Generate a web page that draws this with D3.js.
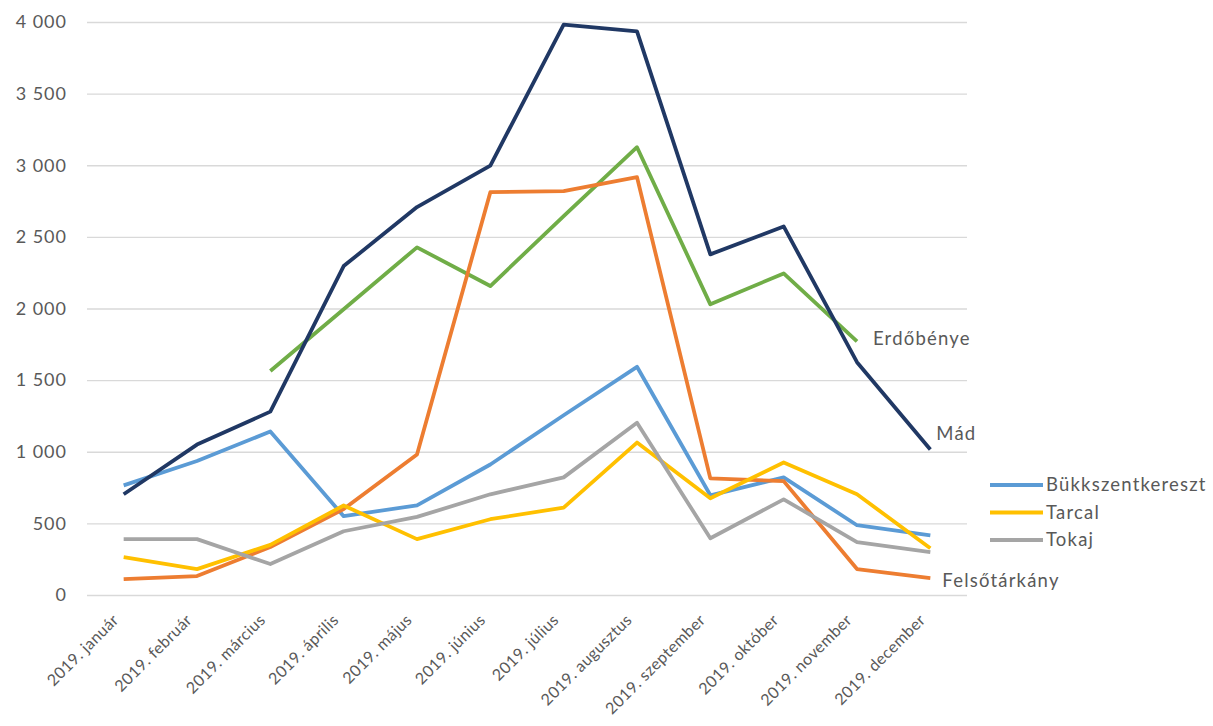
<!DOCTYPE html>
<html lang="hu">
<head>
    <meta charset="UTF-8">
    <title></title>
    <style>
        body { margin: 0; background: #fff; }
        text { font-family: Lato, "Open Sans", sans-serif; fill: #595959; }
    </style>
</head>
<body>
<script src="https://d3js.org/d3.v7.min.js"></script>
<script>
    var width = 1213,
        height = 726,
        plotLeft = 87, plotRight = 967,
        plotTop = 22, plotBottom = 595;

    var months = ['2019. január', '2019. február', '2019. március', '2019. április',
                  '2019. május', '2019. június', '2019. július', '2019. augusztus',
                  '2019. szeptember', '2019. október', '2019. november', '2019. december'];

    var yTicks = [0, 500, 1000, 1500, 2000, 2500, 3000, 3500, 4000];

    // values
    var bukkszentkereszt = [765, 935, 1141, 550, 626, 911, 1255, 1593, 696, 821, 487, 417];
    var erdobenye        = [null, null, 1564, 1995, 2427, 2157, 2645, 3126, 2029, 2245, 1771, null];
    var felsotarkany     = [111, 132, 335, 600, 981, 2812, 2819, 2917, 814, 795, 181, 118];
    var mad              = [703, 1050, 1280, 2296, 2708, 2998, 3982, 3935, 2378, 2573, 1625, 1016];
    var tarcal           = [264, 181, 350, 625, 390, 529, 610, 1064, 675, 925, 703, 327];
    var tokaj            = [390, 390, 216, 445, 545, 703, 821, 1203, 396, 668, 369, 299];

    var series = [
        {name: 'Bükkszentkereszt', values: bukkszentkereszt, color: '#5b9bd5', legend: true},
        {name: 'Erdőbénye', values: erdobenye, color: '#70ad47', label: true},
        {name: 'Felsőtárkány', values: felsotarkany, color: '#ed7d31', label: true},
        {name: 'Mád', values: mad, color: '#203864', label: true},
        {name: 'Tarcal', values: tarcal, color: '#ffc000', legend: true},
        {name: 'Tokaj', values: tokaj, color: '#a5a5a5', legend: true}
    ];

    // where each end label sits relative to its last point
    var labelOffset = {'Erdőbénye': [16, -3], 'Mád': [6, -16], 'Felsőtárkány': [12, 2]};

    var svg = d3.select('body').append('svg')
                .attr('width', width)
                .attr('height', height);

    var x = d3.scaleBand().domain(months).range([plotLeft, plotRight]);
    var y = d3.scaleLinear().domain([0, 4000]).range([plotBottom, plotTop]);

    function cx(m) { return x(m) + x.bandwidth() / 2; }

    function lastIndex(values) {
        return d3.max(values.map(function(v, j) { return v != null ? j : -1; }));
    }

    // grid lines + y labels
    var yAxis = d3.axisLeft(y).tickValues(yTicks)
                  .tickFormat(function(d) { return d3.format(',')(d).replace(',', ' '); })
                  .tickSize(-(plotRight - plotLeft)).tickPadding(20);
    svg.append('g')
       .attr('class', 'y-axis')
       .attr('transform', 'translate(' + plotLeft + ',0)')
       .call(yAxis)
       .call(function(g) {
           g.select('.domain').remove();
           g.selectAll('.tick line').attr('stroke', '#d9d9d9').attr('stroke-width', 1.3);
           g.selectAll('.tick text')
            .attr('font-size', 18)
            .attr('letter-spacing', 1)
            .attr('fill', '#595959');
       });

    // x labels
    var xAxis = d3.axisBottom(x).tickSize(0).tickPadding(0);
    svg.append('g')
       .attr('class', 'x-axis')
       .attr('transform', 'translate(0,' + plotBottom + ')')
       .call(xAxis)
       .call(function(g) {
           g.select('.domain').remove();
           g.selectAll('.tick text')
            .attr('font-size', 16)
            .attr('letter-spacing', 0.4)
            .attr('fill', '#595959')
            .attr('text-anchor', 'end')
            .attr('dy', 0)
            .attr('transform', 'translate(-4,26) rotate(-45)');
       });

    var line = d3.line()
                 .defined(function(d) { return d != null; })
                 .x(function(d, i) { return cx(months[i]); })
                 .y(function(d) { return y(d); });

    svg.append('g').selectAll('path')
       .data(series)
       .join('path')
       .attr('d', function(s) { return line(s.values); })
       .attr('fill', 'none')
       .attr('stroke', function(s) { return s.color; })
       .attr('stroke-width', 3.8)
       .attr('stroke-linejoin', 'round');

    // direct labels at the last point of each labelled series
    svg.append('g').selectAll('text')
       .data(series.filter(function(s) { return s.label; }))
       .join('text')
       .attr('x', function(s) { return cx(months[lastIndex(s.values)]) + labelOffset[s.name][0]; })
       .attr('y', function(s) { return y(s.values[lastIndex(s.values)]) + labelOffset[s.name][1]; })
       .attr('dy', '0.35em')
       .attr('font-size', 18.5)
       .attr('letter-spacing', 1.2)
       .text(function(s) { return s.name; });

    // legend
    var legend = svg.append('g')
                    .attr('transform', 'translate(990,485)')
                    .selectAll('g')
                    .data(series.filter(function(s) { return s.legend; }))
                    .join('g')
                    .attr('transform', function(d, i) { return 'translate(0,' + i * 27.5 + ')'; });
    legend.append('line')
          .attr('x1', 0).attr('x2', 53)
          .attr('stroke', function(d) { return d.color; })
          .attr('stroke-width', 3.8);
    legend.append('text')
          .attr('x', 56)
          .attr('dy', '0.35em')
          .attr('font-size', 18.5)
          .attr('letter-spacing', 1.2)
          .text(function(d) { return d.name; });
</script>
</body>
</html>
